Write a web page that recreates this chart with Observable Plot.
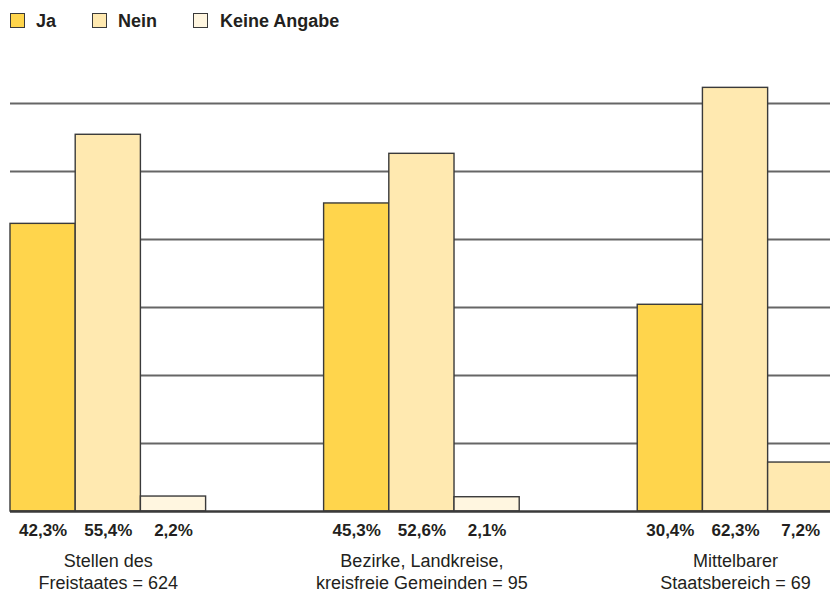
<!DOCTYPE html>
<html>
<head>
<meta charset="utf-8">
<script src="https://cdn.jsdelivr.net/npm/d3@7"></script>
<script src="https://cdn.jsdelivr.net/npm/@observablehq/plot@0.6"></script>
<style>
  body { margin: 0; background: #fff; font-family: "Liberation Sans", Arial, sans-serif; }
  #wrap { position: relative; width: 830px; height: 592px; overflow: hidden; }
  #legend { position: relative; height: 40px; }
  .sw { position: absolute; top: 13px; width: 13px; height: 13px; border: 1.5px solid #3a3a3a; }
  .lt { position: absolute; top: 10px; font-weight: bold; font-size: 18px; line-height: 22px; color: #231f20; }
  #chart svg { display: block; }
</style>
</head>
<body>
<div id="wrap">
  <div id="legend"></div>
  <div id="chart"></div>
</div>
<script>
// ---- data ----
const groups = ["Stellen des\nFreistaates = 624", "Bezirke, Landkreise,\nkreisfreie Gemeinden = 95", "Mittelbarer\nStaatsbereich = 69"];
const categories = ["Ja", "Nein", "Keine Angabe"];
const jaValues = [42.3, 45.3, 30.4];
const neinValues = [55.4, 52.6, 62.3];
const keineValues = [2.2, 2.1, 7.2];
const yTicks = [10, 20, 30, 40, 50, 60];

const colors = {"Ja": "#ffd54c", "Nein": "#ffe9b0", "Keine Angabe": "#fff6e0"};

// build table
const seriesValues = [jaValues, neinValues, keineValues];
const rows = [];
groups.forEach((g, gi) => {
  categories.forEach((c, ci) => {
    rows.push({group: g, gi, category: c, ci, value: seriesValues[ci][gi]});
  });
});

// legend
const legendPos = [[10, 36], [92, 118], [193, 220]];
const legend = document.getElementById("legend");
categories.forEach((c, i) => {
  const sw = document.createElement("div");
  sw.className = "sw";
  sw.style.left = legendPos[i][0] + "px";
  sw.style.background = colors[c];
  legend.appendChild(sw);
  const t = document.createElement("div");
  t.className = "lt";
  t.style.left = legendPos[i][1] + "px";
  t.textContent = c;
  legend.appendChild(t);
});

const step = 4.81;
const xOf = d => d.gi * step + d.ci;
const fmt = v => v.toFixed(1).replace(".", ",") + "%";
// the third group's "Keine Angabe" bar is drawn in the Nein tone in the original
const fillOf = d => (d.gi === 2 && d.ci === 2) ? colors["Nein"] : colors[d.category];

const plot = Plot.plot({
  width: 830,
  height: 552,
  marginLeft: 0, marginRight: 0, marginTop: 0, marginBottom: 0,
  x: {type: "linear", domain: [0, 2 * step + 3], range: [10, 10 + (2 * step + 3) * 65.2], axis: null},
  y: {domain: [0, 60], range: [471, 63], axis: null},
  style: {fontFamily: "'Liberation Sans', Arial, sans-serif", color: "#231f20"},
  marks: [
    Plot.ruleY(yTicks, {y: d => d, x1: 0, x2: 2 * step + 3.2, stroke: "#666", strokeWidth: 2}),
    Plot.rectY(rows, {
      x1: d => xOf(d), x2: d => xOf(d) + 1,
      y1: 0, y2: "value",
      fill: fillOf, stroke: "#3a3a3a", strokeWidth: 1.4
    }),
    Plot.ruleY([0], {x1: 0, x2: 2 * step + 3.2, stroke: "#3a3a3a", strokeWidth: 2.5}),
    Plot.text(rows, {
      x: d => xOf(d) + 0.5, y: 0, dy: 19,
      text: d => fmt(d.value),
      fontWeight: "bold", fontSize: 17, fill: "#231f20"
    }),
    Plot.text(groups, {
      x: (d, i) => i * step + 1.5, y: 0, dy: 59,
      text: d => d, lineAnchor: "middle", lineHeight: 1.22,
      fontSize: 18, fill: "#231f20"
    })
  ]
});
document.getElementById("chart").appendChild(plot);
</script>
</body>
</html>
